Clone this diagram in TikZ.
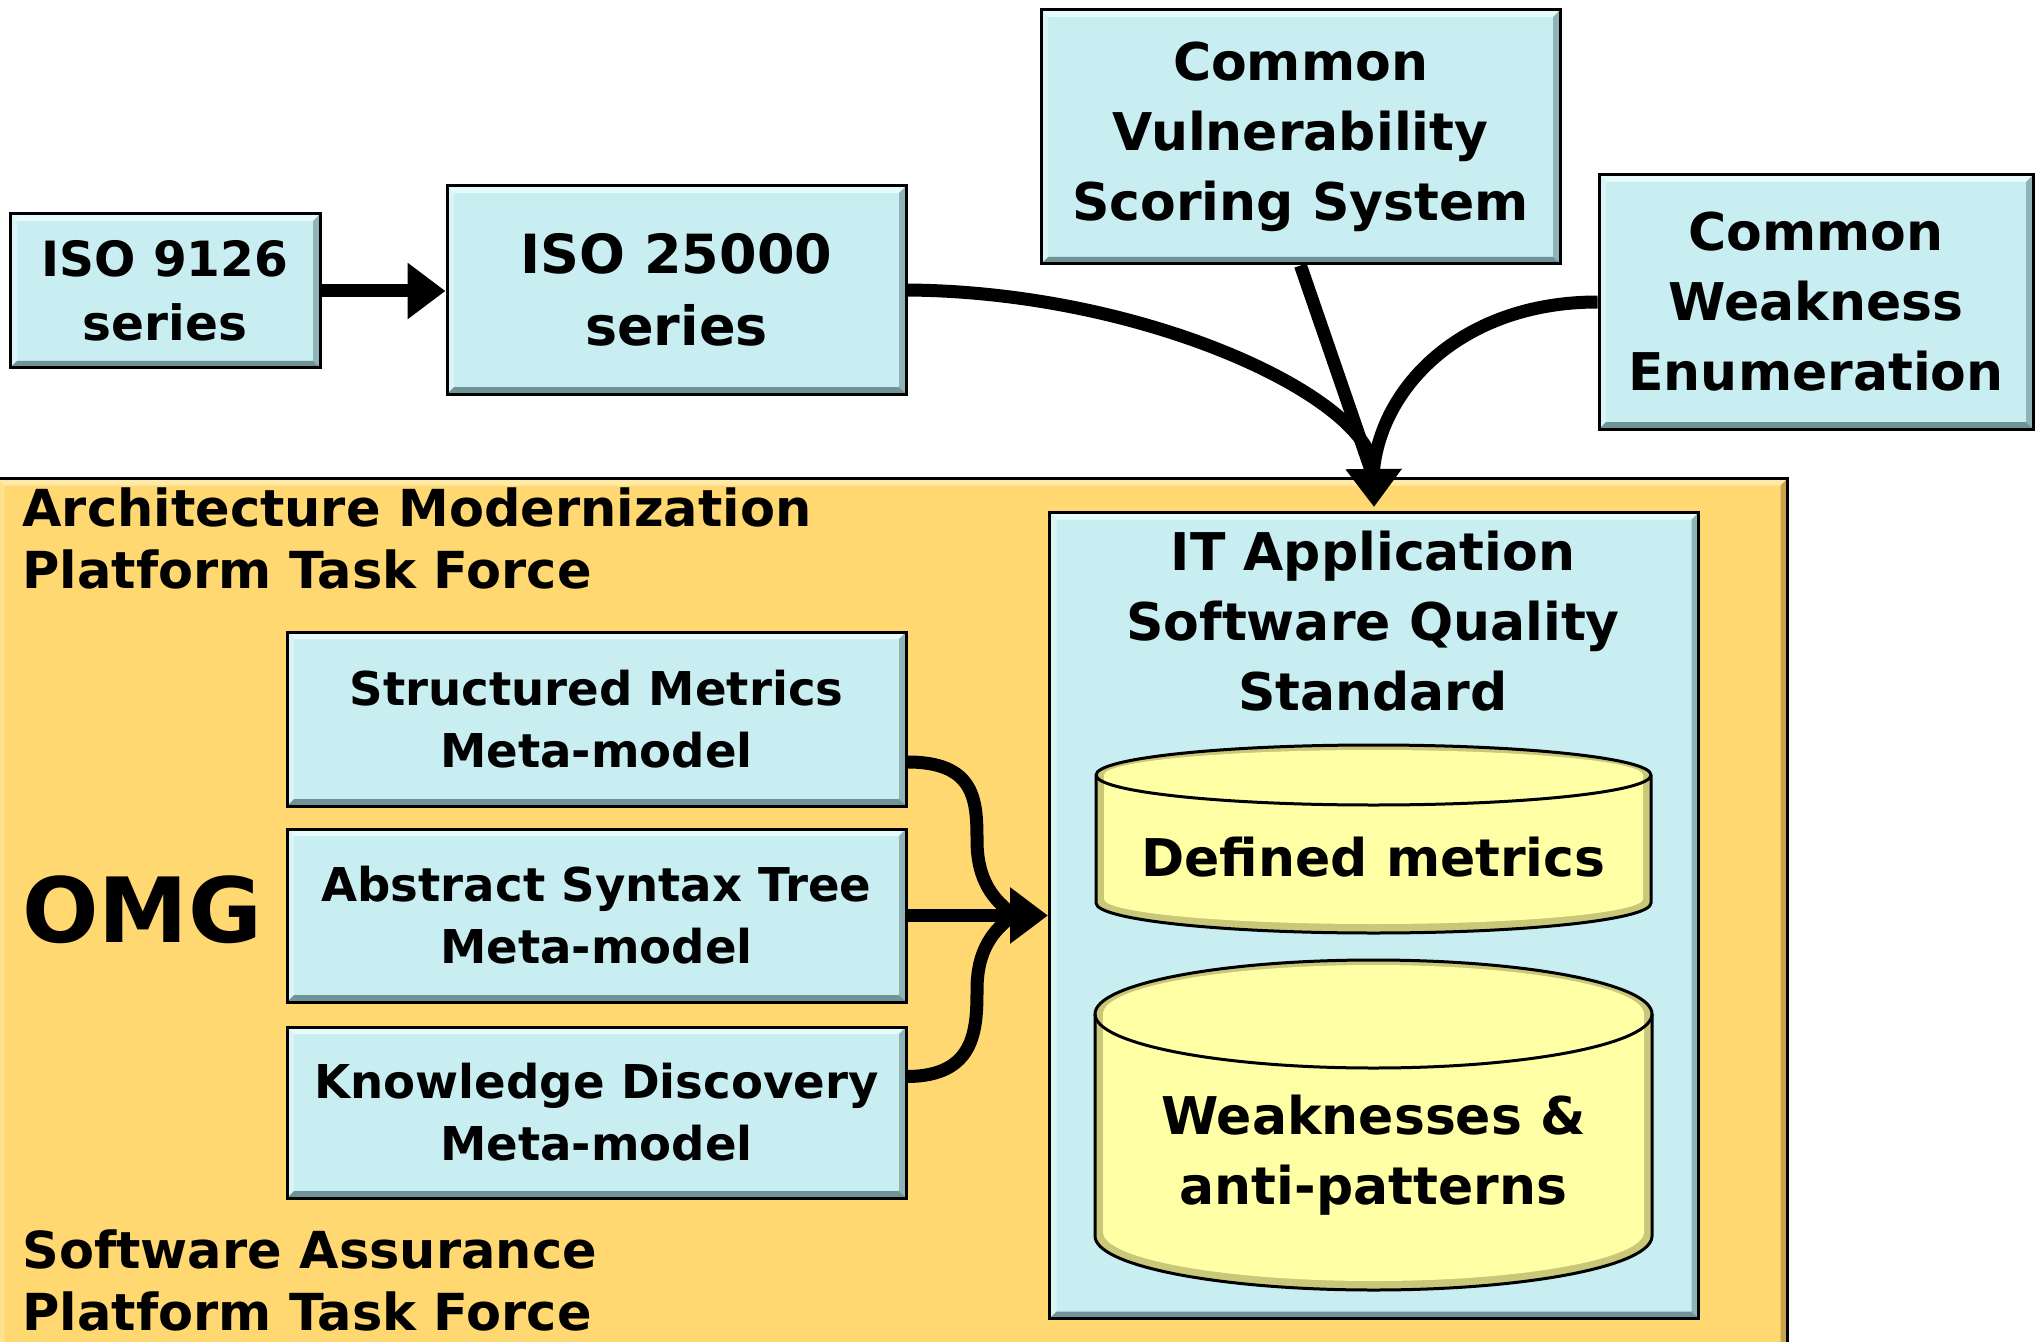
\documentclass[tikz,border=0pt]{standalone}
\usepackage{fontspec}
\setmainfont{DejaVu Sans}
\usetikzlibrary{arrows.meta}
\definecolor{boxcyan}{HTML}{C8EEF2}
\definecolor{cyT}{HTML}{E8FBFC}
\definecolor{cyL}{HTML}{DAF5F7}
\definecolor{cyR}{HTML}{8FB3B7}
\definecolor{cyB}{HTML}{6F9397}
\definecolor{boxorange}{HTML}{FFD872}
\definecolor{orT}{HTML}{FFEAA8}
\definecolor{orL}{HTML}{FFE290}
\definecolor{orR}{HTML}{C9A24E}
\definecolor{orB}{HTML}{B08A3E}
\definecolor{cylyellow}{HTML}{FFFFA5}
\definecolor{cylshade}{HTML}{C9C77A}
\newlength{\bevw}\setlength{\bevw}{3.5pt}
\newcommand{\myfs}[2]{\fontsize{#1}{#2}\selectfont\bfseries}
\begin{document}
\begin{tikzpicture}[x=0.5pt,y=-0.5pt,
  bevel/.style={path picture={
    \path (path picture bounding box.north west) coordinate (q1)
          (path picture bounding box.north east) coordinate (q2)
          (path picture bounding box.south east) coordinate (q3)
          (path picture bounding box.south west) coordinate (q4);
    \fill[#1T] (q1) -- (q2) -- ([shift={(-\bevw,-\bevw)}]q2) -- ([shift={(\bevw,-\bevw)}]q1) -- cycle;
    \fill[#1L] (q1) -- ([shift={(\bevw,-\bevw)}]q1) -- ([shift={(\bevw,\bevw)}]q4) -- (q4) -- cycle;
    \fill[#1R] (q2) -- (q3) -- ([shift={(-\bevw,\bevw)}]q3) -- ([shift={(-\bevw,-\bevw)}]q2) -- cycle;
    \fill[#1B] (q4) -- (q3) -- ([shift={(-\bevw,\bevw)}]q3) -- ([shift={(\bevw,\bevw)}]q4) -- cycle;
  }},
  box/.style={draw=black, line width=1.5pt, fill=boxcyan, bevel=cy, align=center, inner sep=0pt, text=black},
  container/.style={draw=black, line width=1.5pt, fill=boxorange, bevel=or, inner sep=0pt},
  cyl/.style={draw=black, line width=1.5pt},
  lbl/.style={inner sep=0pt, text=black},
  conn/.style={draw=black, line width=6.5pt},
  arr/.style={-{Triangle[length=19pt,width=27pt]}}
]
\useasboundingbox (0,0) rectangle (2038,1342);

% top boxes
\node[box, minimum width=155pt, minimum height=77pt, font=\myfs{24.3}{32}] (iso9126) at (165,291) {ISO 9126\\series};
\node[box, minimum width=229.5pt, minimum height=104pt, font=\myfs{27}{36}] (iso25000) at (676.5,290) {ISO 25000\\series};
\node[box, minimum width=259.5pt, minimum height=127pt, font=\myfs{26}{35}] (cvss) at (1300.5,137) {Common\\Vulnerability\\Scoring System};
\node[box, minimum width=217pt, minimum height=127pt, font=\myfs{26}{35}] (cwe) at (1816,302) {Common\\Weakness\\Enumeration};

% container
\node[container, anchor=north west, minimum width=895pt, minimum height=445pt] (amp) at (-4,477) {};
\node[lbl, anchor=west, align=left, font=\myfs{25.5}{31}] (amptf) at (22,538) {Architecture Modernization\\Platform Task Force};
\node[lbl, anchor=west, align=left, font=\myfs{25.5}{31}] (saptf) at (22,1280) {Software Assurance\\Platform Task Force};
\node[lbl, anchor=west, font=\myfs{45}{50}] (omg) at (22,910) {OMG};

% OMG meta-models
\node[box, minimum width=309.5pt, minimum height=87pt, font=\myfs{23.3}{31}] (smm) at (596.5,719) {Structured Metrics\\Meta-model};
\node[box, minimum width=309.5pt, minimum height=86.5pt, font=\myfs{23.3}{31}] (ast) at (596.5,915.5) {Abstract Syntax Tree\\Meta-model};
\node[box, minimum width=309.5pt, minimum height=85.5pt, font=\myfs{23.3}{31}] (kdm) at (596.5,1112.5) {Knowledge Discovery\\Meta-model};

% IT standard box
\node[box, anchor=north west, minimum width=324.5pt, minimum height=403pt] (it) at (1048,511) {};
\node[lbl, align=center, font=\myfs{26}{35}] (ittitle) at (1373,621) {IT Application\\Software Quality\\Standard};

% cylinder 1
\begin{scope}
  \path[clip] (1096,775) -- (1096,903) arc[start angle=180,end angle=0,x radius=277.5,y radius=30] -- (1651,775) arc[start angle=0,end angle=-180,x radius=277.5,y radius=30] -- cycle;
  \fill[cylshade] (1080,730) rectangle (1670,950);
  \fill[cylyellow] (1104,775) -- (1104,899) arc[start angle=180,end angle=0,x radius=269.5,y radius=25] -- (1643,775) arc[start angle=0,end angle=-180,x radius=269.5,y radius=25] -- cycle;
\end{scope}
\draw[cyl] (1096,775) -- (1096,903) arc[start angle=180,end angle=0,x radius=277.5,y radius=30] -- (1651,775) arc[start angle=0,end angle=-180,x radius=277.5,y radius=30] -- cycle;
\draw[black, line width=1.5pt] (1096,775) arc[start angle=180,end angle=0,x radius=277.5,y radius=30];
\node[lbl, font=\myfs{26}{35}] (dm) at (1373.5,857) {Defined metrics};

% cylinder 2
\begin{scope}
  \path[clip] (1095,1014) -- (1095,1236) arc[start angle=180,end angle=0,x radius=278.5,y radius=54] -- (1652,1014) arc[start angle=0,end angle=-180,x radius=278.5,y radius=54] -- cycle;
  \fill[cylshade] (1080,950) rectangle (1670,1300);
  \fill[cylyellow] (1103,1014) -- (1103,1232) arc[start angle=180,end angle=0,x radius=270.5,y radius=49] -- (1644,1014) arc[start angle=0,end angle=-180,x radius=270.5,y radius=49] -- cycle;
\end{scope}
\draw[cyl] (1095,1014) -- (1095,1236) arc[start angle=180,end angle=0,x radius=278.5,y radius=54] -- (1652,1014) arc[start angle=0,end angle=-180,x radius=278.5,y radius=54] -- cycle;
\draw[black, line width=1.5pt] (1095,1014) arc[start angle=180,end angle=0,x radius=278.5,y radius=54];
\node[lbl, align=center, font=\myfs{26}{35}] (wap) at (1373.5,1155) {Weaknesses \&\\anti-patterns};

% connectors
\coordinate (tipA) at ([yshift=2pt]it.north);
\coordinate (mergeA) at (1373,476);
\coordinate (mergeB) at (1014,915);

\draw[conn, arr] (iso9126.east) -- (iso9126.east -| iso25000.west);
\draw[conn, arr] (iso25000.east) .. controls (1150,292) and (1373,400) .. (tipA);
\draw[conn] (cvss.south) -- (mergeA);
\draw[conn] (cwe.west) .. controls (1460,302) and (1378,390) .. (mergeA);

\draw[conn, arr] (ast.east) -- (ast.east -| it.west);
\draw[conn] ([yshift=-21.5pt]smm.east) .. controls (975,762) and (977,800) .. (977,840) .. controls (977,880) and (993,900) .. (mergeB);
\draw[conn] ([yshift=18pt]kdm.east) .. controls (975,1076) and (977,1030) .. (977,990) .. controls (977,950) and (993,930) .. (mergeB);
\end{tikzpicture}
\end{document}
